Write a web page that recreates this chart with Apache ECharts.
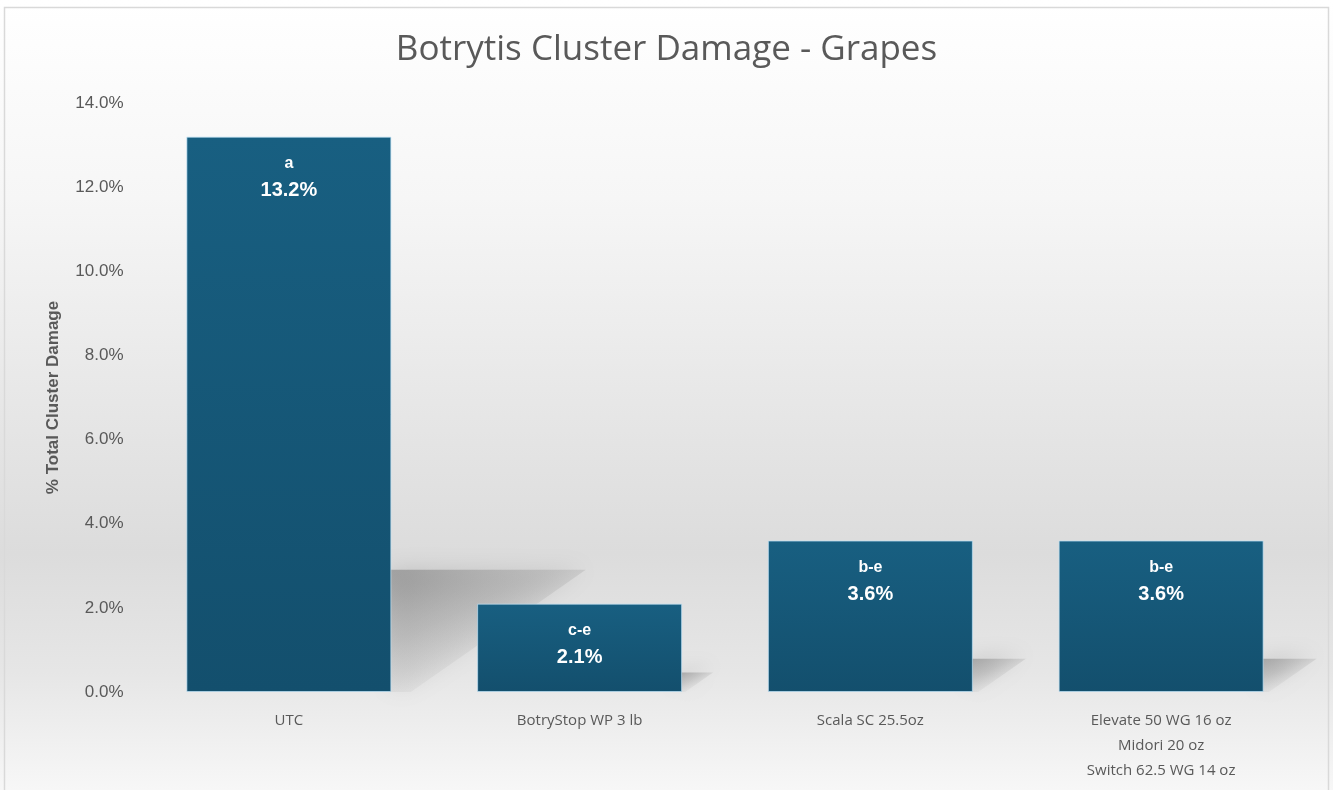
<!DOCTYPE html>
<html><head><meta charset="utf-8">
<script src="https://cdn.jsdelivr.net/npm/echarts@6/dist/echarts.min.js"></script>
<style>html,body{margin:0;padding:0;background:#fff}#c{width:1333px;height:790px}</style>
</head><body><div id="c"></div>
<script>
const categories = ['UTC', 'BotryStop WP 3 lb', 'Scala SC 25.5oz', 'Elevate 50 WG 16 oz\nMidori 20 oz\nSwitch 62.5 WG 14 oz'];
const values = [13.2, 2.1, 3.6, 3.6];
const letters = ['a', 'c-e', 'b-e', 'b-e'];
const yTicks = [0, 2, 4, 6, 8, 10, 12, 14];

const chart = echarts.init(document.getElementById('c'));
const shadowData = values.map((v, i) => [i, v]);

chart.setOption({
  animation: false,
  backgroundColor: {
    type: 'linear', x: 0, y: 0, x2: 0, y2: 1,
    colorStops: [
      { offset: 0, color: '#ffffff' },
      { offset: 0.25, color: '#f6f6f6' },
      { offset: 0.7, color: '#dcdcdc' },
      { offset: 0.85, color: '#e6e6e6' },
      { offset: 1, color: '#f7f7f7' }
    ]
  },
  title: {
    text: 'Botrytis Cluster Damage - Grapes',
    left: 'center', top: 28,
    textStyle: { fontFamily: 'Open Sans, sans-serif', fontSize: 35, fontWeight: 'normal', color: '#595959' }
  },
  graphic: [{
    type: 'rect', shape: { x: 4.5, y: 7.5, width: 1324, height: 790 },
    style: { fill: 'none', stroke: '#d9d9d9', lineWidth: 1.5 }, silent: true
  }],
  grid: { left: 143.5, right: 26.5, top: 103, bottom: 98 },
  xAxis: {
    type: 'category', data: categories,
    axisLine: { show: false }, axisTick: { show: false },
    axisLabel: { color: '#595959', fontSize: 15, lineHeight: 25, margin: 16, fontFamily: 'Open Sans, sans-serif', interval: 0 }
  },
  yAxis: {
    type: 'value', min: 0, max: 14, interval: 2,
    name: '% Total Cluster Damage', nameLocation: 'middle', nameGap: 82, nameRotate: 90,
    nameTextStyle: { color: '#595959', fontSize: 17, fontWeight: 'bold', fontFamily: 'Liberation Sans, Arial, sans-serif' },
    splitLine: { show: false }, axisLine: { show: false }, axisTick: { show: false },
    axisLabel: { color: '#595959', fontSize: 17, margin: 20, fontFamily: 'Liberation Sans, Arial, sans-serif',
      formatter: v => v.toFixed(1) + '%' }
  },
  series: [
    {
      type: 'custom', z: 1, silent: true,
      data: shadowData,
      renderItem: function (params, api) {
        const top = api.coord([api.value(0), api.value(1)]);
        const base = api.coord([api.value(0), 0]);
        const bw = api.size([1, 0])[0] * 0.705;
        const h = base[1] - top[1];
        const sh = h * 0.22;
        const off = h * 0.35;
        const r = base[0] + bw / 2;
        return {
          type: 'polygon',
          shape: { points: [[r - 2, base[1] - sh], [r + off, base[1] - sh], [r + off * 0.1, base[1]], [r - 2, base[1]]] },
          style: {
            fill: {
              type: 'linear', x: 0, y: 0, x2: 0.3, y2: 1,
              colorStops: [{ offset: 0, color: 'rgba(100,100,100,0.45)' }, { offset: 0.5, color: 'rgba(130,130,130,0.28)' }, { offset: 1, color: 'rgba(180,180,180,0.08)' }]
            },
            shadowBlur: 22, shadowColor: 'rgba(90,90,90,0.55)'
          }
        };
      }
    },
    {
      type: 'bar', z: 2, barWidth: '70.5%',
      data: values,
      itemStyle: {
        color: {
          type: 'linear', x: 0, y: 0, x2: 0, y2: 1,
          colorStops: [{ offset: 0, color: '#185f81' }, { offset: 1, color: '#134f6d' }]
        },
        borderColor: 'rgba(190,225,245,0.7)', borderWidth: 1
      },
      label: {
        show: true, position: 'insideTop', distance: 14,
        formatter: p => '{l|' + letters[p.dataIndex] + '}\n{v|' + p.value.toFixed(1) + '%}',
        rich: {
          l: { color: '#fff', fontSize: 16, fontWeight: 'bold', fontFamily: 'Liberation Sans, Arial, sans-serif', lineHeight: 26 },
          v: { color: '#fff', fontSize: 20, fontWeight: 'bold', fontFamily: 'Liberation Sans, Arial, sans-serif', lineHeight: 28 }
        }
      }
    }
  ]
});
</script></body></html>
